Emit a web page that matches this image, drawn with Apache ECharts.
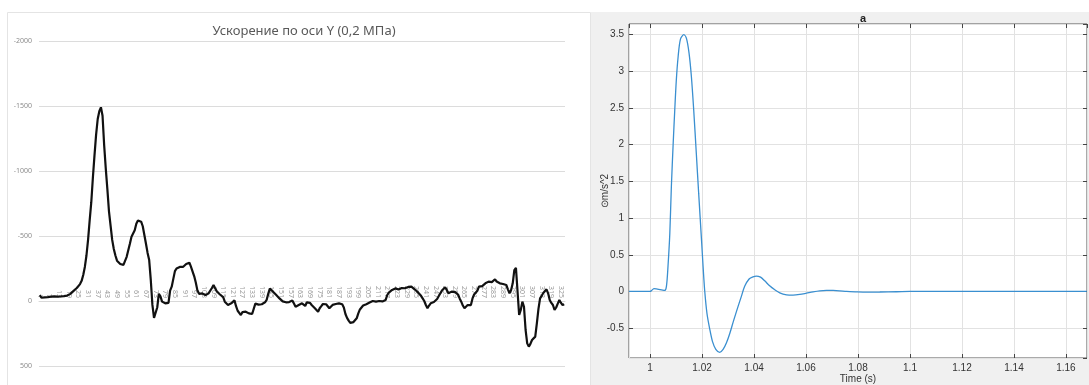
<!DOCTYPE html>
<html>
<head>
<meta charset="utf-8">
<script src="https://cdn.jsdelivr.net/npm/echarts@6/dist/echarts.min.js"></script>
<style>
  html, body { margin: 0; padding: 0; background: #ffffff; }
  #chart { width: 1089px; height: 385px; }
</style>
</head>
<body>
<div id="chart"></div>
<script>
// Left panel: acceleration along Y, one value per sample (Excel-style line chart)
const accelY = [
  -45, -25, -22, -28, -26, -30, -28, -33, -31, -35,
  -33, -34, -36, -35, -37, -38, -40, -42, -48, -55,
  -65, -78, -90, -100, -112, -130, -155, -200, -262, -350,
  -470, -620, -760, -950, -1120, -1280, -1400, -1460, -1490, -1425,
  -1200, -1020, -860, -690, -580, -470, -400, -350, -310, -295,
  -285, -280, -278, -285, -340, -390, -440, -495, -510, -545,
  -595, -620, -622, -610, -575, -560, -440, -370, -315, -160,
  30, 130, 140, 50, -55, -35, 5, 12, 18, 20,
  15, -80, -110, -170, -230, -250, -262, -262, -268, -262,
  -276, -285, -300, -295, -262, -250, -190, -140, -80, -55,
  -46, -58, -52, -45, -55, -60, -75, -100, -123, -98,
  -75, -60, -50, -38, -30, 5, 20, 30, 25, 18,
  30, -5, 40, 75, 85, 108, 85, 70, 82, 88,
  95, 105, 100, 92, 20, 30, 28, 18, 25, 30,
  10, -8, -55, -95, -85, -72, -60, -46, -35, -20,
  -10, 3, 5, 10, 3, 8, 5, -3, 20, 44,
  38, 31, 25, 18, 28, 38, 10, 5, 15, 31,
  45, 56, 70, 82, 56, 40, 23, 18, 25, 31,
  56, 58, 30, 18, 23, 20, 18, 22, 25, 50,
  100, 130, 151, 168, 172, 162, 150, 133, 95, 65,
  50, 35, 28, 25, 20, 12, 5, 0, -8, 5,
  5, 0, 5, 3, -5, -8, -46, -65, -78, -85,
  -90, -97, -95, -88, -92, -100, -105, -98, -97, -108,
  -115, -110, -105, -90, -80, -68, -59, -40, -20, 0,
  31, 56, 35, 18, 5, 8, 5, -15, -30, -59,
  -80, -88, -105, -85, -59, -65, -72, -59, -70, -85,
  -50, -20, 5, 35, 56, 45, 31, 28, 31, -20,
  -50, -59, -79, -110, -123, -115, -128, -136, -145, -149,
  -136, -145, -150, -167, -150, -140, -136, -133, -131, -128,
  -123, -90, -59, -85, -136, -238, -255, -264, 108, 69,
  5, 44, 223, 326, 351, 330, 300, 290, 274, 172,
  60, -20, -40, -62, -75, -90, -59, -8, 15, 31,
  69, 50, 20, -8, 15, 31, 25
];
// sample numbers 1..N used as category labels
const sampleNumbers = accelY.map((_, i) => String(i + 1));
const leftTitle = 'Ускорение по оси Y (0,2 МПа)';
const leftRange = [-2000, 500];

// Right panel: simulated acceleration "a" versus time
const timeSec = [
  0.9919, 1.0, 1.0005, 1.0015, 1.0024, 1.0044, 1.0056, 1.0063, 1.0069, 1.0076,
  1.0082, 1.0089, 1.0095, 1.0101, 1.0108, 1.0117, 1.013, 1.014, 1.015, 1.0159,
  1.0168, 1.0178, 1.0187, 1.0198, 1.0204, 1.021, 1.0219, 1.023, 1.024, 1.0253,
  1.0268, 1.0281, 1.0294, 1.0307, 1.0322, 1.0339, 1.0351, 1.0364, 1.0381, 1.0396,
  1.0409, 1.0425, 1.0441, 1.046, 1.048, 1.0499, 1.0525, 1.055, 1.0576, 1.0602,
  1.0627, 1.0653, 1.0679, 1.0704, 1.073, 1.0756, 1.0794, 1.0833, 1.0884, 1.0948,
  1.1, 1.168
];
const accelA = [
  0, 0, 0.01, 0.04, 0.036, 0.023, 0.014, 0.07, 0.34, 0.79,
  1.43, 2.02, 2.47, 2.88, 3.2, 3.44, 3.5, 3.45, 3.25, 2.93,
  2.47, 1.88, 1.34, 0.70, 0.34, 0.02, -0.30, -0.52, -0.68, -0.79,
  -0.83, -0.79, -0.70, -0.57, -0.39, -0.20, -0.07, 0.07, 0.17, 0.20,
  0.21, 0.195, 0.145, 0.077, 0.023, -0.018, -0.045, -0.05, -0.041, -0.023,
  -0.005, 0.009, 0.014, 0.014, 0.009, 0, -0.005, -0.008, -0.007, -0.004,
  0, 0
];
const timeRange = [0.9919, 1.1681];
const accelRange = [-0.907, 3.646];

const chart = echarts.init(document.getElementById('chart'), null, { renderer: 'canvas' });

const mFont = 'Liberation Sans, Arial, sans-serif';
const fmt2 = v => String(+(+v).toFixed(2));

// left plot box
const leftGrid = { left: 39, right: 524, top: 41, bottom: 19 };
const leftPlotH = 385 - leftGrid.top - leftGrid.bottom;
// category axis sits on the zero line of the inverted value axis
const zeroShift = leftPlotH * (0 - leftRange[0]) / (leftRange[1] - leftRange[0]);

// shared settings for the framed (MATLAB-style) axes
const xCommon = {
  type: 'value', gridIndex: 1,
  min: timeRange[0], max: timeRange[1],
  minInterval: 0.02, maxInterval: 0.02,
  axisLine: { show: false, onZero: false },
  axisTick: { show: true, inside: true, length: 4, lineStyle: { color: '#444', width: 1 } }
};
const yCommon = {
  type: 'value', gridIndex: 1,
  min: accelRange[0], max: accelRange[1],
  minInterval: 0.5, maxInterval: 0.5,
  axisLine: { show: false, onZero: false },
  axisTick: { show: true, inside: true, length: 4, lineStyle: { color: '#444', width: 1 } }
};

const option = {
  animation: false,
  backgroundColor: '#ffffff',
  graphic: [
    // frame of the spreadsheet chart
    { type: 'rect', z: -10, silent: true,
      shape: { x: 7.5, y: 12.5, width: 583, height: 380 },
      style: { fill: '#ffffff', stroke: '#e4e4e4', lineWidth: 1 } },
    // figure background of the scope window
    { type: 'rect', z: -10, silent: true,
      shape: { x: 591, y: 12, width: 498, height: 373 },
      style: { fill: '#f0f0f0' } }
  ],
  title: [
    { text: leftTitle, left: 299, top: 20, textAlign: 'center',
      textStyle: { fontFamily: 'Noto Sans, Open Sans, sans-serif', fontSize: 13, fontWeight: 'normal', color: '#595959' } },
    { text: 'a', left: 858, top: 8, textAlign: 'center',
      textStyle: { fontFamily: mFont, fontSize: 11, fontWeight: 'bold', color: '#222' } }
  ],
  grid: [
    Object.assign({ outerBoundsMode: 'none', containLabel: false }, leftGrid),
    { left: 629, right: 2, top: 24, bottom: 27, show: true,
      outerBoundsMode: 'none', containLabel: false,
      backgroundColor: '#ffffff', borderColor: '#555', borderWidth: 1 }
  ],
  xAxis: [
    {
      type: 'category', gridIndex: 0, data: sampleNumbers,
      position: 'top', offset: -zeroShift, boundaryGap: true,
      axisLine: { show: true, onZero: false, lineStyle: { color: '#d9d9d9', width: 1 } },
      axisTick: { show: false },
      axisLabel: { interval: 5, rotate: 90, margin: 3, fontSize: 7,
        color: '#9a9a9a', fontFamily: 'Noto Sans, sans-serif' },
      splitLine: { show: false }
    },
    Object.assign({}, xCommon, {
      position: 'bottom',
      name: 'Time (s)', nameLocation: 'middle', nameGap: 16, nameMoveOverlap: false,
      nameTextStyle: { fontFamily: mFont, fontSize: 10, color: '#333' },
      axisLabel: { margin: 5, fontSize: 10, color: '#333', fontFamily: mFont,
        showMinLabel: false, showMaxLabel: false, formatter: fmt2 },
      splitLine: { show: true, lineStyle: { color: '#e2e2e2', width: 1 } }
    }),
    Object.assign({}, xCommon, {
      position: 'top',
      axisLabel: { show: false }, splitLine: { show: false }
    })
  ],
  yAxis: [
    {
      type: 'value', gridIndex: 0, inverse: true,
      min: leftRange[0], max: leftRange[1], interval: 500,
      axisLine: { show: false }, axisTick: { show: false },
      axisLabel: { fontSize: 7, color: '#8c8c8c', margin: 7, fontFamily: 'Noto Sans, sans-serif',
        formatter: v => String(v) },
      splitLine: { show: true, lineStyle: { color: '#dcdcdc', width: 1 } }
    },
    Object.assign({}, yCommon, {
      position: 'left',
      name: '⊙m/s^2', nameLocation: 'middle', nameGap: 19, nameRotate: 90, nameMoveOverlap: false,
      nameTextStyle: { fontFamily: mFont, fontSize: 10, color: '#333' },
      axisLabel: { margin: 5, fontSize: 10, color: '#333', fontFamily: mFont,
        showMinLabel: false, showMaxLabel: false, formatter: fmt2 },
      splitLine: { show: true, lineStyle: { color: '#e2e2e2', width: 1 } }
    }),
    Object.assign({}, yCommon, {
      position: 'right',
      axisLabel: { show: false }, splitLine: { show: false }
    })
  ],
  series: [
    {
      type: 'line', xAxisIndex: 0, yAxisIndex: 0,
      data: accelY, showSymbol: false, symbol: 'none',
      lineStyle: { color: '#111111', width: 2.2 },
      z: 5
    },
    {
      type: 'line', xAxisIndex: 1, yAxisIndex: 1,
      data: timeSec.map((t, i) => [t, accelA[i]]),
      showSymbol: false, symbol: 'none', smooth: 0.3,
      lineStyle: { color: '#3a8fd0', width: 1.3 },
      z: 5
    }
  ]
};

chart.setOption(option);
</script>
</body>
</html>
